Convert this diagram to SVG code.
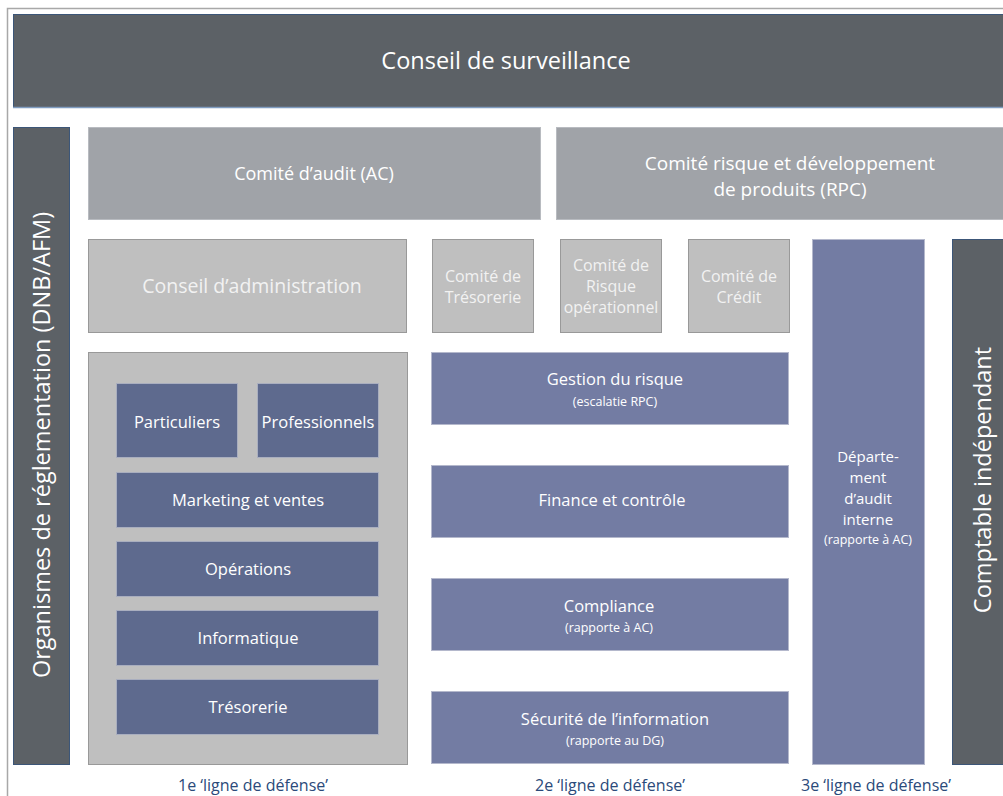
<svg xmlns="http://www.w3.org/2000/svg" width="1003" height="796" viewBox="0 0 1003 796">
<style>
text{font-family:"Open Sans","Noto Sans","Liberation Sans",sans-serif;text-anchor:middle;fill:#ffffff}
.dark{fill:#5c6166;stroke:#3c5678;stroke-width:1}
.mid{fill:#a0a3a8;stroke:#b8bbc0;stroke-width:1}
.light{fill:#bfbfbf;stroke:#999999;stroke-width:1}
.blue{fill:#737ca3;stroke:#b4b8cc;stroke-width:1}
.navy{fill:#5e6a8e;stroke:#a9aebf;stroke-width:1}
.lt{fill:#f2f2f2}
.foot{fill:#2b4a7a;font-size:16px}
.sm{font-size:12.5px}
.md{font-size:16.5px}
.cm{font-size:16px}
</style>
<rect x="0" y="0" width="1003" height="796" fill="#ffffff"/>
<path d="M7.5 796 V8.5 H1003" fill="none" stroke="#a8a8a8" stroke-width="1.5"/>

<g id="conseil-surveillance">
<rect class="dark" x="13.5" y="14.5" width="995" height="93"/>
<line x1="13" y1="107.5" x2="1003" y2="107.5" stroke="#7f9cc0" stroke-width="1.5"/>
<text x="506" y="69" font-size="23.5">Conseil de surveillance</text>
</g>

<g id="organismes">
<rect class="dark" x="13.5" y="127.5" width="56" height="637"/>
<text transform="translate(49.5,445) rotate(-90)" font-size="23.5">Organismes de réglementation (DNB/AFM)</text>
</g>

<g id="comite-audit">
<rect class="mid" x="88.5" y="127.5" width="452" height="92"/>
<text x="314" y="180" font-size="18">Comité d’audit (AC)</text>
</g>

<g id="comite-risque">
<rect class="mid" x="556.5" y="127.5" width="452" height="92"/>
<text font-size="19"><tspan x="790" y="170">Comité risque et développement</tspan><tspan x="790" y="196">de produits (RPC)</tspan></text>
</g>

<g id="conseil-administration">
<rect class="light" x="88.5" y="239.5" width="318" height="93"/>
<text class="lt" x="252" y="293" font-size="19.5">Conseil d’administration</text>
</g>

<g id="comite-tresorerie">
<rect class="light" x="432.5" y="239.5" width="101" height="93"/>
<text class="lt cm"><tspan x="483" y="282">Comité de</tspan><tspan x="483" y="303">Trésorerie</tspan></text>
</g>

<g id="comite-risque-operationnel">
<rect class="light" x="560.5" y="239.5" width="101" height="93"/>
<text class="lt cm"><tspan x="611" y="271">Comité de</tspan><tspan x="611" y="292">Risque</tspan><tspan x="611" y="313" font-size="15.8">opérationnel</tspan></text>
</g>

<g id="comite-credit">
<rect class="light" x="688.5" y="239.5" width="101" height="93"/>
<text class="lt cm"><tspan x="739" y="282">Comité de</tspan><tspan x="739" y="303">Crédit</tspan></text>
</g>

<g id="departement-audit">
<rect class="blue" x="812.5" y="239.5" width="112" height="525"/>
<text font-size="15"><tspan x="868" y="462">Départe-</tspan><tspan x="868" y="483">ment</tspan><tspan x="868" y="504">d’audit</tspan><tspan x="868" y="525">interne</tspan></text>
<text x="868" y="544" font-size="12.5">(rapporte à AC)</text>
</g>

<g id="comptable">
<rect class="dark" x="952.5" y="239.5" width="60" height="525"/>
<text transform="translate(990.5,480) rotate(-90)" font-size="23.5">Comptable indépendant</text>
</g>

<g id="premiere-ligne">
<rect class="light" x="88.5" y="352.5" width="319" height="412"/>
</g>
<g id="particuliers">
<rect class="navy" x="116.5" y="383.5" width="121" height="74"/>
<text class="md" x="177" y="428">Particuliers</text>
</g>
<g id="professionnels">
<rect class="navy" x="257.5" y="383.5" width="121" height="74"/>
<text class="md" x="318" y="428">Professionnels</text>
</g>
<g id="marketing">
<rect class="navy" x="116.5" y="472.5" width="262" height="55"/>
<text class="md" x="248" y="506">Marketing et ventes</text>
</g>
<g id="operations">
<rect class="navy" x="116.5" y="541.5" width="262" height="55"/>
<text class="md" x="248" y="575">Opérations</text>
</g>
<g id="informatique">
<rect class="navy" x="116.5" y="610.5" width="262" height="55"/>
<text class="md" x="248" y="644">Informatique</text>
</g>
<g id="tresorerie">
<rect class="navy" x="116.5" y="679.5" width="262" height="55"/>
<text class="md" x="248" y="713">Trésorerie</text>
</g>

<g id="gestion-risque">
<rect class="blue" x="431.5" y="352.5" width="357" height="72"/>
<text class="md" x="615" y="385">Gestion du risque</text>
<text x="615" y="406" class="sm">(escalatie RPC)</text>
</g>
<g id="finance">
<rect class="blue" x="431.5" y="465.5" width="357" height="72"/>
<text class="md" x="612" y="506">Finance et contrôle</text>
</g>
<g id="compliance">
<rect class="blue" x="431.5" y="578.5" width="357" height="72"/>
<text class="md" x="609" y="612">Compliance</text>
<text x="609" y="632" class="sm">(rapporte à AC)</text>
</g>
<g id="securite">
<rect class="blue" x="431.5" y="691.5" width="357" height="72"/>
<text class="md" x="615" y="725">Sécurité de l’information</text>
<text x="615" y="745" class="sm">(rapporte au DG)</text>
</g>

<g id="labels">
<text class="foot" x="253" y="791">1e ‘ligne de défense’</text>
<text class="foot" x="610" y="791">2e ‘ligne de défense’</text>
<text class="foot" x="876" y="791">3e ‘ligne de défense’</text>
</g>
</svg>
